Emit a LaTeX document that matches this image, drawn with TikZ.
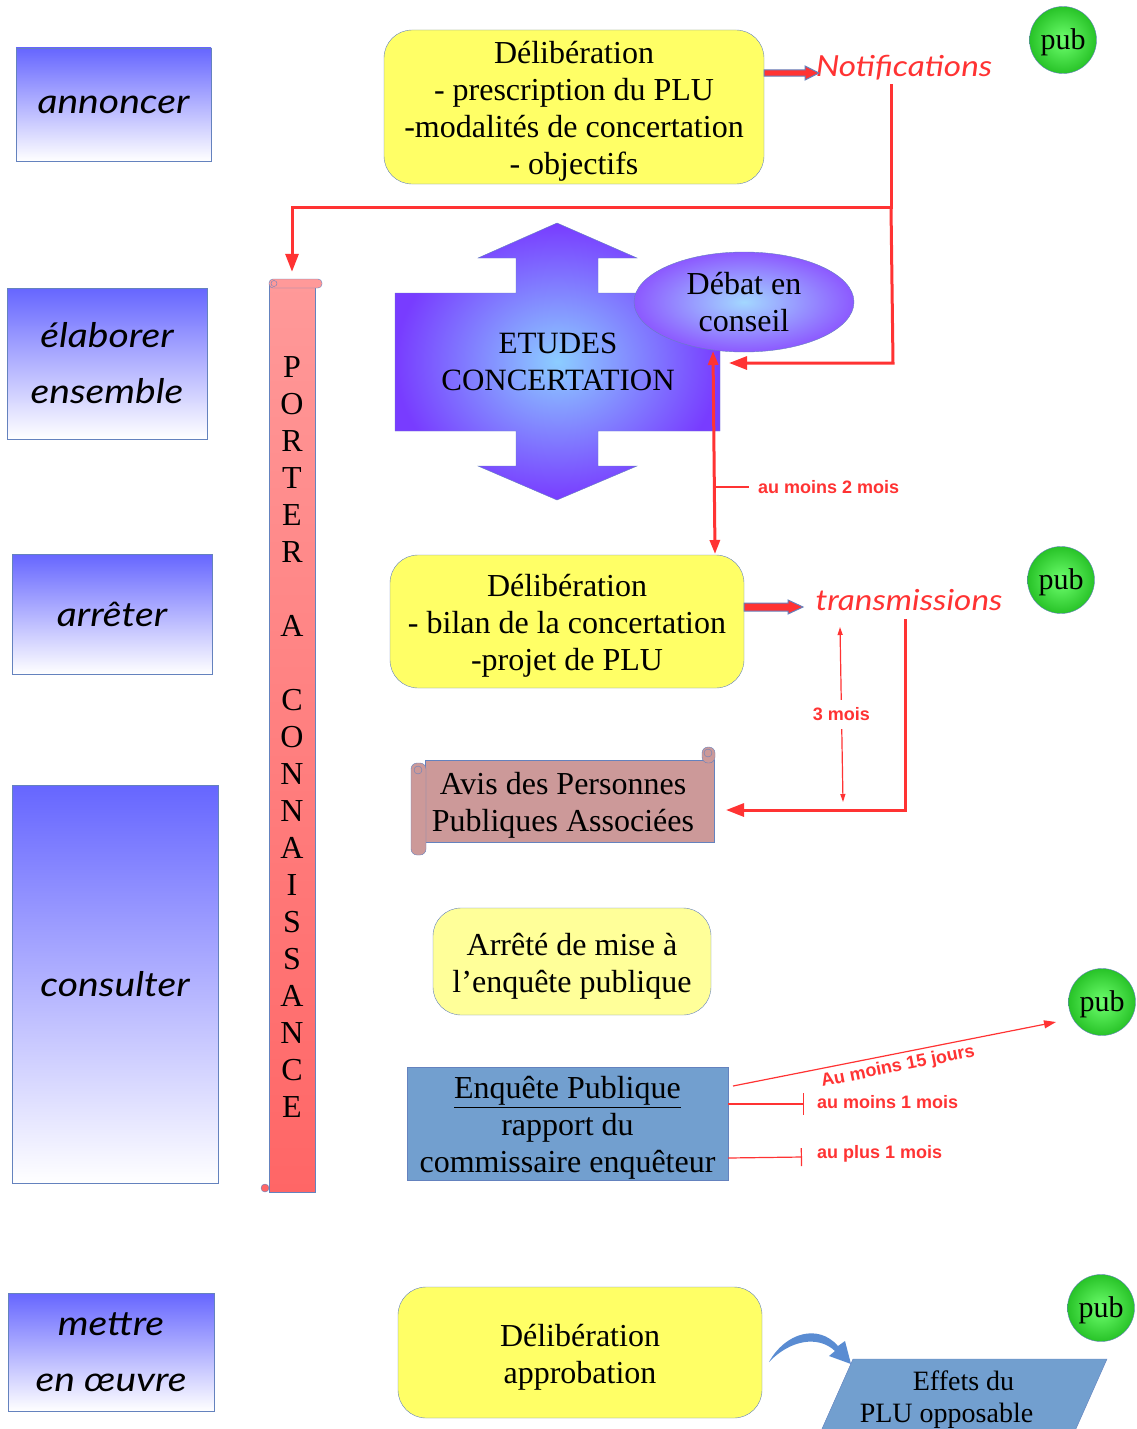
\documentclass[tikz,border=0pt]{standalone}
\usepackage{fontspec}
\setmainfont{Liberation Serif}
\newfontfamily\handfont{Lato}[FakeStretch=1.15]
\newfontfamily\labfont{Liberation Sans}
\usetikzlibrary{arrows.meta,shapes.geometric,calc}
\definecolor{bordc}{RGB}{100,130,190}
\definecolor{yel}{RGB}{255,255,102}
\definecolor{lyel}{RGB}{255,255,153}
\definecolor{redc}{RGB}{255,51,51}
\definecolor{steel}{RGB}{114,159,207}
\definecolor{boxtop}{RGB}{102,102,255}
\definecolor{pinktop}{RGB}{255,153,153}
\definecolor{pinkbot}{RGB}{255,102,102}
\definecolor{avisc}{RGB}{204,153,153}
\definecolor{greenin}{RGB}{110,255,110}
\definecolor{greenout}{RGB}{40,195,40}
\definecolor{purp}{RGB}{120,60,255}
\definecolor{lblue}{RGB}{140,205,255}
\definecolor{curveblue}{RGB}{90,140,210}
\newcommand{\serifbig}{\fontsize{32}{37}\selectfont}
\newcommand{\fsa}{\rule{0pt}{32pt}}
\newcommand{\fsb}{\rule[-7.5pt]{0pt}{7.5pt}}
\tikzset{
 leftbox/.style={draw=bordc, top color=boxtop, bottom color=white, inner sep=0pt, font=\handfont\itshape\fontsize{34}{56}\selectfont, align=center},
 ybox/.style={draw=bordc, fill=yel, rounded corners=28pt, inner sep=0pt, font=\serifbig, align=center},
 pubnode/.style={circle, draw=bordc, inner color=greenin, outer color=greenout, minimum size=67pt, inner sep=0pt, text height=26pt, text depth=6.5pt, font=\fontsize{30}{34}\selectfont},
 redthick/.style={draw=redc, line width=3pt},
 redthin/.style={draw=redc, line width=1.2pt},
 bigtip/.style={-{Triangle[length=18pt,width=13pt]}},
 redlab/.style={text=redc, font=\labfont\bfseries\fontsize{18}{20}\selectfont, inner sep=0pt},
 handred/.style={text=redc, font=\handfont\itshape\fontsize{29}{34}\selectfont, inner sep=0pt},
 blockarrow/.style={fill=redc, draw=bordc, line width=1pt},
}
\begin{document}
\begin{tikzpicture}[x=1pt,y=-1pt]
\useasboundingbox (0,0) rectangle (1136,1429);
% left column
\node[leftbox, minimum width=195pt, minimum height=113pt] (annoncer) at (113.5,104.5) {annoncer};
\node[leftbox, minimum width=200pt, minimum height=151pt] (elaborer) at (107,363.5) {élaborer\\ensemble};
\node[leftbox, minimum width=200pt, minimum height=120pt] (arreter) at (112,614) {arrêter};
\node[leftbox, minimum width=206pt, minimum height=398pt] (consulter) at (115,984) {consulter};
\node[leftbox, minimum width=206pt, minimum height=118pt] (mettre) at (111,1352) {mettre\\en œuvre};
% porter a connaissance scroll
\node[draw=bordc, top color=pinktop, bottom color=pinkbot, minimum width=46pt, minimum height=909pt, inner sep=0pt, align=center, font=\serifbig] (porter) at (292,737.5)
 {P\\O\\R\\T\\E\\R\\~\\A\\~\\C\\O\\N\\N\\A\\I\\S\\S\\A\\N\\C\\E};
\draw[fill=pinktop, draw=bordc, rounded corners=4pt] (269,279) rectangle (322,288);
\draw[fill=pinktop, draw=bordc] (274,283.5) circle (3pt);
\draw[fill=pinkbot, draw=bordc] (265,1188) circle (4pt);
% deliberation 1
\node[ybox, minimum width=380pt, minimum height=154pt] (delib1) at (574,107) {\fsa Délibération\\- prescription du PLU\\-modalités de concertation\\- objectifs\fsb};
\node[handred] (notif) at (904,68) {Notifications};
\coordinate (b1s) at (764,73);
\draw[blockarrow] (b1s) ++(0,-3) -- ++(41,0) -- ++(0,-4) -- ++(14,7) -- ++(-14,7) -- ++(0,-4) -- ++(-41,0) -- cycle;
% pub nodes
\node[pubnode] (pub1) at (1063,40) {pub};
\node[pubnode] (pub2) at (1061,580) {pub};
\node[pubnode] (pub3) at (1102,1002) {pub};
\node[pubnode] (pub4) at (1101,1308) {pub};
% etudes concertation cross arrow
\shade[inner color=lblue, outer color=purp, draw=bordc]
 (395,293) -- (516,293) -- (516,258) -- (478,258) -- (557,223) -- (637,258) -- (598,258) -- (598,293) -- (720,293) -- (720,431) -- (598,431) -- (598,466) -- (637,466) -- (557,500) -- (478,466) -- (516,466) -- (516,431) -- (395,431) -- cycle;
\node[align=center, font=\fontsize{31}{37}\selectfont] (etudes) at (558,362) {ETUDES\\CONCERTATION};
\node[ellipse, draw=bordc, inner color=lblue!80!white, outer color=purp!85!white, minimum width=220pt, minimum height=100pt, inner sep=0pt, align=center, font=\serifbig] (debat) at (744,302) {Débat en\\conseil};
% notifications lines
\coordinate (n0) at (891,84);
\coordinate (njoin) at (891,207);
\coordinate (nturn) at (893,363);
\coordinate (dbin) at (729,363);
\draw[redthick, bigtip, shorten >=11pt] (n0) -- (njoin) -| (porter.north);
\draw[redthick, bigtip] (njoin) -- (nturn) -- (dbin);
% deliberation 2
\node[ybox, minimum width=354pt, minimum height=133pt] (delib2) at (567,621.5) {\fsa Délibération\\- bilan de la concertation\\-projet de PLU\fsb};
\coordinate (dbs) at (713,351);
\coordinate (d2top) at (715,554);
\draw[redthick, {Triangle[length=14pt,width=10pt]}-{Triangle[length=14pt,width=10pt]}] (dbs) -- (d2top);
\coordinate (lab2s) at (714.5,487);
\draw[redthin] (lab2s) -- ++(34,0) node[redlab, anchor=west, xshift=9pt] (lab2) {au moins 2 mois};
\node[handred] (trans) at (909,600) {transmissions};
\coordinate (b2s) at (744,607);
\draw[blockarrow] (b2s) ++(0,-4) -- ++(44,0) -- ++(0,-3) -- ++(15,7) -- ++(-15,7) -- ++(0,-3) -- ++(-44,0) -- cycle;
% 3 mois
\coordinate (t3a) at (840,627);
\coordinate (t3b) at (843,802);
\draw[redthin, {Triangle[length=8pt,width=5pt]}-{Triangle[length=8pt,width=5pt]}] (t3a) -- (t3b) node[midway, redlab, fill=white, inner xsep=1pt, inner ysep=8pt] (lab3) {3 mois};
% avis scroll
\node[draw=bordc, fill=avisc, minimum width=289pt, minimum height=82pt, inner sep=0pt, align=center, font=\serifbig] (avis) at (569.5,801) {\fsa Avis des Personnes\hspace*{13pt}\\Publiques Associées\hspace*{13pt}\fsb};
\draw[fill=avisc, draw=bordc, rounded corners=6pt] (411,763) rectangle (426,855);
\draw[fill=avisc, draw=bordc] (418,770) circle (4pt);
\draw[fill=avisc, draw=bordc, rounded corners=6pt] (702,747) rectangle (715,763);
\draw[fill=avisc, draw=bordc] (708,753) circle (4pt);
\coordinate (tr0) at (905,619);
\coordinate (avin) at (726,810);
\draw[redthick, bigtip] (tr0) |- (avin);
% arrete
\node[ybox, fill=lyel, minimum width=278pt, minimum height=107pt] (arrete) at (572,961.5) {\fsa Arrêté de mise à\\l'enquête publique\fsb};
% enquete publique
\node[draw=bordc, fill=steel, minimum width=321pt, minimum height=113pt, inner sep=0pt, align=center, font=\serifbig] (enquete) at (567.5,1123.5) {\fsa\underline{Enquête Publique}\\rapport du\\commissaire enquêteur\fsb};
\coordinate (e15) at (733,1086);
\coordinate (e15end) at (1056,1022);
\draw[redthin, -{Triangle[length=12pt,width=8pt]}] (e15) -- (e15end);
\node[redlab, rotate=11.2] (l15) at (898,1067) {Au moins 15 jours};
\coordinate (e1a) at (728,1104);
\coordinate (e1b) at (804,1104);
\draw[redthin, -{Bar[width=22pt]}] (e1a) -- (e1b);
\node[redlab, anchor=west] (l1m) at (817,1102) {au moins 1 mois};
\coordinate (e2a) at (728,1158);
\coordinate (e2b) at (802,1157);
\draw[redthin, -{Bar[width=18pt]}] (e2a) -- (e2b);
\node[redlab, anchor=west] (lp1m) at (817,1154) {au plus 1 mois};
% approbation
\node[ybox, minimum width=364pt, minimum height=131pt] (approb) at (580,1352.5) {\fsa Délibération\\approbation\fsb};
\fill[curveblue] (769,1362) .. controls (785,1333) and (818,1323) .. (838,1346) -- (845,1341) -- (851,1364) -- (829,1356) -- (835,1351) .. controls (818,1335) and (790,1340) .. (769,1362) -- cycle;
\begin{scope}
\clip (0,0) rectangle (1136,1429);
\draw[fill=steel, draw=bordc] (853,1359) -- (1107,1359) -- (1071,1440) -- (817,1440) -- cycle;
\end{scope}
\node[align=center, font=\fontsize{28}{32}\selectfont] (effets) at (955,1400) {\hspace*{17pt}Effets du\\PLU opposable\hspace*{17pt}};
\end{tikzpicture}
\end{document}
